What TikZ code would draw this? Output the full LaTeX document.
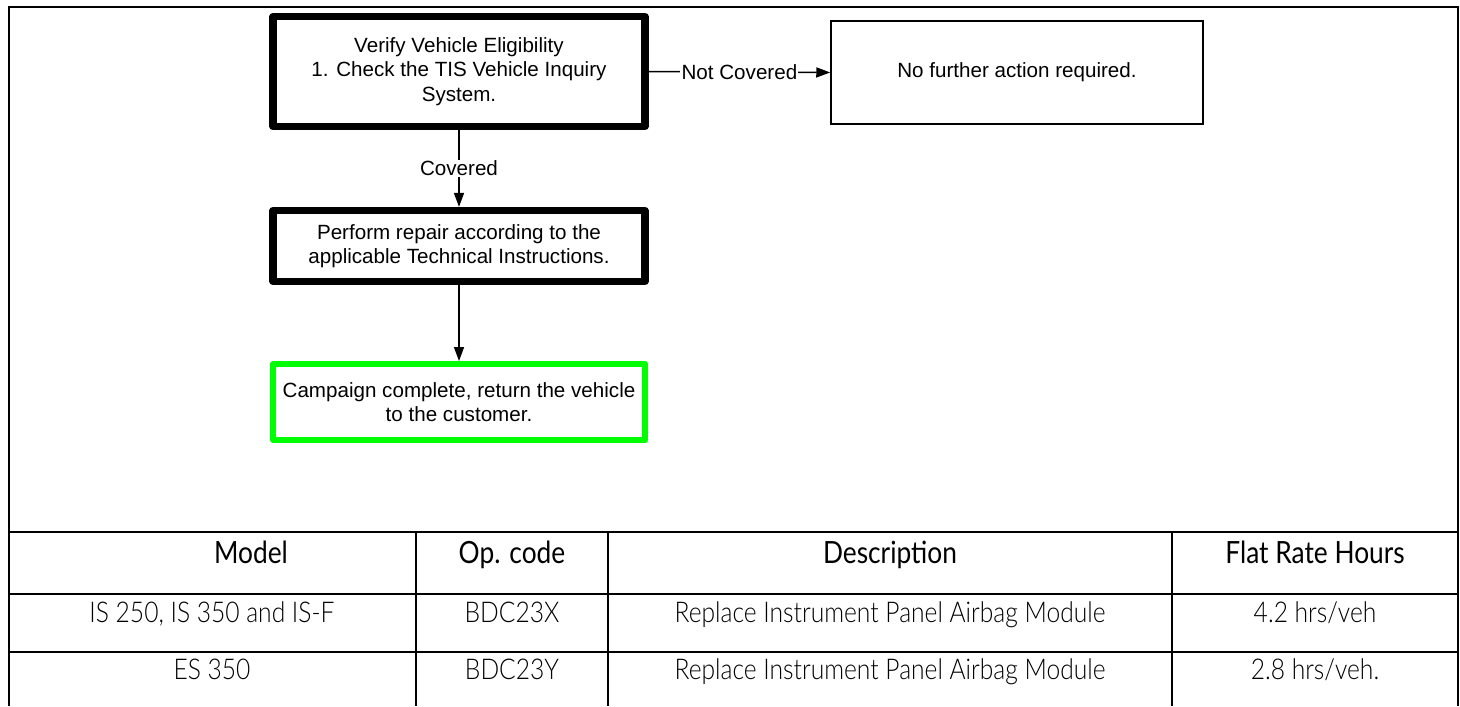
\documentclass[tikz,border=0pt]{standalone}
\usepackage{fontspec}
\setmainfont{Liberation Sans}
\newfontfamily\tabhead[FakeStretch=0.86]{Lato}
\newfontfamily\tabbody[FakeStretch=0.86]{Lato Light}
\usetikzlibrary{arrows.meta}
\definecolor{limeg}{RGB}{0,255,0}
\begin{document}
\begin{tikzpicture}[x=0.5pt,y=-0.5pt,
  flowtext/.style={font=\fontsize{10.3}{12.3}\selectfont, align=center, inner sep=0pt},
  thickbox/.style={draw, line width=3.6pt, line join=round, minimum width=186pt, flowtext},
  greenbox/.style={draw=limeg, line width=3pt, line join=round, minimum width=186pt, flowtext},
  plainbox/.style={draw, line width=0.75pt, minimum width=186pt, flowtext},
  conn/.style={line width=0.75pt, -{Triangle[length=7pt,width=5pt]}},
  lbl/.style={fill=white, inner sep=0.6pt, font=\fontsize{10.3}{12.3}\selectfont},
  gridline/.style={line width=1pt},
  thead/.style={font=\tabhead\fontsize{15.3}{17}\selectfont, anchor=base, inner sep=0pt},
  tbody/.style={font=\tabbody\fontsize{14.3}{16}\selectfont, anchor=base, inner sep=0pt}]
\useasboundingbox (0,0) rectangle (1460,706);
\fill[white] (0,0) rectangle (1460,706);

% flowchart
\node[thickbox, minimum height=55pt] (verify) at (459,71.5)
  {Verify Vehicle Eligibility\\1. Check the TIS Vehicle Inquiry\\System.};
\node[plainbox, minimum height=51.5pt] (nf) at (1017,72.5) {No further action required.};
\node[thickbox, minimum height=35.5pt] (perform) at (459,246)
  {Perform repair according to the\\applicable Technical Instructions.};
\node[greenbox, minimum height=38pt] (done) at (459,402)
  {Campaign complete, return the vehicle\\to the customer.};

\draw[conn] (verify.east) -- node[lbl] {Not Covered} (nf.west);
\draw[conn] (verify.south) -- node[lbl] {Covered} (perform.north);
\draw[conn] (perform.south) -- (done.north);

% frame and table
\draw[gridline] (8.5,706) -- (8.5,7) -- (1458,7) -- (1458,706);
\draw[gridline] (8.5,532) -- (1458,532);
\draw[gridline] (8.5,594) -- (1458,594);
\draw[gridline] (8.5,652) -- (1458,652);
\draw[gridline] (416,532) -- (416,706);
\draw[gridline] (608,532) -- (608,706);
\draw[gridline] (1172,532) -- (1172,706);

\node[thead] (hmodel) at (251,563) {Model};
\node[thead] (hop) at (512,563) {Op. code};
\node[thead] (hdesc) at (890,563) {Description};
\node[thead] (hfrh) at (1315,563) {Flat Rate Hours};

\node[tbody] (m1) at (212,622) {IS 250, IS 350 and IS-F};
\node[tbody] (o1) at (512,622) {BDC23X};
\node[tbody] (d1) at (890,622) {Replace Instrument Panel Airbag Module};
\node[tbody] (f1) at (1315,622) {4.2 hrs/veh};

\node[tbody] (m2) at (212,679) {ES 350};
\node[tbody] (o2) at (512,679) {BDC23Y};
\node[tbody] (d2) at (890,679) {Replace Instrument Panel Airbag Module};
\node[tbody] (f2) at (1315,679) {2.8 hrs/veh.};
\end{tikzpicture}
\end{document}
